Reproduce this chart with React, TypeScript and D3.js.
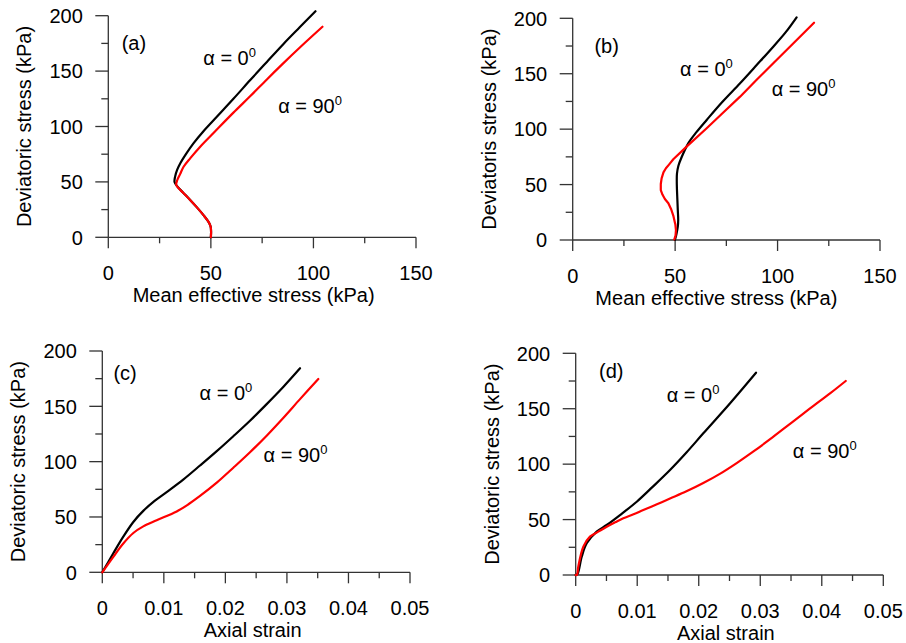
import * as d3 from 'd3'

type Pt = [number, number]

// (a) effective stress path, alpha = 0 / 90
const pathA0: Pt[] = [[50, 0], [50.1, 5], [49.9, 9.6], [49, 13.5], [46.4, 20], [43.2, 27], [39.9, 33.7], [36.4, 40.5], [33.6, 46], [32.3, 50], [32.6, 55], [33.6, 61], [35.1, 66.8], [38, 75.5], [41.5, 84.8], [46.5, 96], [52.9, 108.8], [61, 125], [69.2, 141.9], [77.3, 158.3], [85.4, 174.5], [93.3, 189.5], [101, 204]]
const pathA90: Pt[] = [[50, 0], [50.1, 5], [49.9, 9.6], [49, 13.5], [46.4, 20], [43.2, 27], [39.9, 33.7], [36.6, 40], [34.2, 44.5], [33.1, 47.5], [33.6, 51.5], [35, 57], [36.7, 63.7], [40, 71.5], [44.8, 81.8], [52, 95.5], [61, 112.5], [69, 127], [77.3, 142.5], [85, 156.5], [93.5, 171.5], [104.4, 190]]

// (b) effective stress path
const pathB0: Pt[] = [[49.9, 0], [50.6, 5], [51.3, 12], [51.5, 18], [51.3, 27], [51.1, 36], [50.9, 45], [50.8, 53], [50.9, 60], [51.6, 67], [53, 74], [56.4, 87.2], [60.5, 97.5], [65.4, 108.3], [73, 124.5], [81.7, 141.4], [89.8, 157.8], [97.9, 174.4], [104, 187.5], [109.3, 200.9]]
const pathB90: Pt[] = [[49.6, 0.6], [50.2, 4], [50.4, 9], [50.1, 14], [49.1, 22], [48, 28], [46.7, 33.1], [45, 37], [43.8, 41], [43, 45.1], [43, 50.5], [43.4, 55.6], [44.3, 61], [45.5, 64.7], [47, 68], [49.1, 72.8], [55.6, 84.2], [65.4, 100.8], [73.5, 115], [81.7, 129.3], [89.8, 144.5], [97.9, 159.4], [107.5, 177], [117.8, 196]]

// (c) stress-strain
const curveC0: Pt[] = [[0, 0], [0.00179, 17.2], [0.00341, 32.2], [0.00504, 45.5], [0.00666, 55.5], [0.0085, 64.5], [0.01046, 72.5], [0.0132, 84], [0.01588, 96.5], [0.0186, 109.5], [0.02129, 123], [0.024, 137], [0.02671, 152], [0.0294, 167.5], [0.03213, 184.4]]
const curveC90: Pt[] = [[0, 0], [0.00179, 14], [0.00341, 26], [0.00504, 35.5], [0.00666, 41.5], [0.00884, 47], [0.01209, 55], [0.014, 61.5], [0.01588, 69], [0.0186, 81], [0.02129, 94.5], [0.024, 108.5], [0.02671, 123.5], [0.0294, 139.5], [0.03213, 156.5], [0.0351, 174.7]]

// (d) stress-strain
const curveD0: Pt[] = [[0, 0], [0.0003, 1], [0.00098, 16.5], [0.00179, 28.6], [0.00341, 39.1], [0.00504, 45.1], [0.0072, 54.1], [0.00992, 66.1], [0.0125, 79.5], [0.01533, 94.7], [0.018, 110.5], [0.02074, 127.8], [0.0251, 155], [0.02931, 182.5]]
const curveD90: Pt[] = [[0, 0], [0.0002, 0], [0.00042, 7.5], [0.00124, 25.5], [0.00232, 34.6], [0.00367, 39.1], [0.00504, 43.6], [0.0064, 47.5], [0.00774, 51.2], [0.0093, 54.5], [0.01099, 58.6], [0.0132, 63.8], [0.01533, 69], [0.018, 75.5], [0.02074, 83], [0.0235, 91.5], [0.02617, 101], [0.0289, 111.5], [0.0316, 122.5], [0.0343, 134], [0.037, 145.5], [0.03917, 154.9], [0.0415, 164.5], [0.04389, 175]]

const stressTicks = [0, 50, 100, 150]
const stressMinor = [25, 75, 125]
const strainTicks = [0, 0.01, 0.02, 0.03, 0.04, 0.05]
const strainMinor = [0.005, 0.015, 0.025, 0.035, 0.045]
const qTicks = [0, 50, 100, 150, 200]
const qMinor = [25, 75, 125, 175]

const FONT = '"Liberation Sans", Arial, Helvetica, sans-serif'
const AXIS = '#333'

const panels = [
  {
    tag: '(a)', box: [108.3, 416, 15.7, 237.3], xDomain: [0, 150], xTicks: stressTicks, xMinor: stressMinor,
    xTitle: 'Mean effective stress (kPa)', titleDx: -8.5, yTitle: 'Deviatoric stress (kPa)',
    s0: pathA0, s90: pathA90, linear90: false,
    tagAt: [6.5, 169], at0: [46.3, 155.4], at90: [82.8, 111.9],
  },
  {
    tag: '(b)', box: [572.7, 880, 18.3, 240], xDomain: [0, 150], xTicks: stressTicks, xMinor: stressMinor,
    xTitle: 'Mean effective stress (kPa)', titleDx: -10, yTitle: 'Deviatoris stress (kPa)',
    s0: pathB0, s90: pathB90, linear90: true,
    tagAt: [10.6, 168.4], at0: [52.4, 148], at90: [97.1, 129.9],
  },
  {
    tag: '(c)', box: [102.3, 410, 351, 572.3], xDomain: [0, 0.05], xTicks: strainTicks, xMinor: strainMinor,
    xTitle: 'Axial strain', titleDx: -3.5, yTitle: 'Deviatoric stress (kPa)',
    s0: curveC0, s90: curveC90, linear90: false,
    tagAt: [0.0018, 173.8], at0: [0.0158, 155.7], at90: [0.0262, 100],
  },
  {
    tag: '(d)', box: [575.7, 883.3, 353.3, 575], xDomain: [0, 0.05], xTicks: strainTicks, xMinor: strainMinor,
    xTitle: 'Axial strain', titleDx: -3.7, yTitle: 'Deviatoric stress (kPa)',
    s0: curveD0, s90: curveD90, linear90: false,
    tagAt: [0.0038, 177.4], at0: [0.0148, 156.3], at90: [0.0353, 105.3],
  },
]

function Alpha({ x, y, deg }: { x: number; y: number; deg: string }) {
  return (
    <text x={x} y={y} fontSize={20}>
      {'α = ' + deg}
      <tspan fontSize={13} dy={-8}>0</tspan>
    </text>
  )
}

function Panel({ p }: { p: any }) {
  const [l, r, t, b] = p.box
  const x = d3.scaleLinear().domain(p.xDomain).range([l, r])
  const y = d3.scaleLinear().domain([0, 200]).range([b, t])
  const smooth = d3.line<Pt>().x(d => x(d[0])).y(d => y(d[1])).curve(d3.curveCatmullRom.alpha(0.5))
  const straight = d3.line<Pt>().x(d => x(d[0])).y(d => y(d[1]))

  return (
    <g>
      <line x1={l} x2={l} y1={b} y2={t} stroke={AXIS} strokeWidth={1.3} />
      <line x1={l} x2={r} y1={b} y2={b} stroke={AXIS} strokeWidth={1.3} />
      {qTicks.map(v => <line key={'yt' + v} x1={l - 13} x2={l} y1={y(v)} y2={y(v)} stroke={AXIS} strokeWidth={1.3} />)}
      {qMinor.map(v => <line key={'ym' + v} x1={l - 7} x2={l} y1={y(v)} y2={y(v)} stroke={AXIS} strokeWidth={1.3} />)}
      {qTicks.map(v => (
        <text key={'yl' + v} x={l - 25.5} y={y(v) + 7.2} fontSize={20} textAnchor="end">{v}</text>
      ))}
      {p.xTicks.map((v: number) => <line key={'xt' + v} x1={x(v)} x2={x(v)} y1={b} y2={b + 11} stroke={AXIS} strokeWidth={1.3} />)}
      {p.xMinor.map((v: number) => <line key={'xm' + v} x1={x(v)} x2={x(v)} y1={b} y2={b + 6} stroke={AXIS} strokeWidth={1.3} />)}
      {p.xTicks.map((v: number) => (
        <text key={'xl' + v} x={x(v)} y={b + 42.7} fontSize={20} textAnchor="middle">{String(v)}</text>
      ))}
      <text x={(l + r) / 2 + p.titleDx} y={b + 64.5} fontSize={20} textAnchor="middle">{p.xTitle}</text>
      <text transform={`translate(${l - 77},${(t + b) / 2}) rotate(-90)`} fontSize={20} textAnchor="middle">{p.yTitle}</text>

      <path d={smooth(p.s0) || ''} fill="none" stroke="#000" strokeWidth={2.2} strokeLinejoin="round" strokeLinecap="round" />
      <path d={(p.linear90 ? straight : smooth)(p.s90) || ''} fill="none" stroke="#ff0000" strokeWidth={2.2} strokeLinejoin="round" strokeLinecap="round" />

      <text x={x(p.tagAt[0])} y={y(p.tagAt[1])} fontSize={20}>{p.tag}</text>
      <Alpha x={x(p.at0[0])} y={y(p.at0[1])} deg="0" />
      <Alpha x={x(p.at90[0])} y={y(p.at90[1])} deg="90" />
    </g>
  )
}

export default function App() {
  return (
    <svg width={906} height={643} style={{ position: 'absolute', left: 0, top: 0, background: '#fff' }} fontFamily={FONT} fill="#000">
      {panels.map(p => <Panel key={p.tag} p={p} />)}
    </svg>
  )
}
